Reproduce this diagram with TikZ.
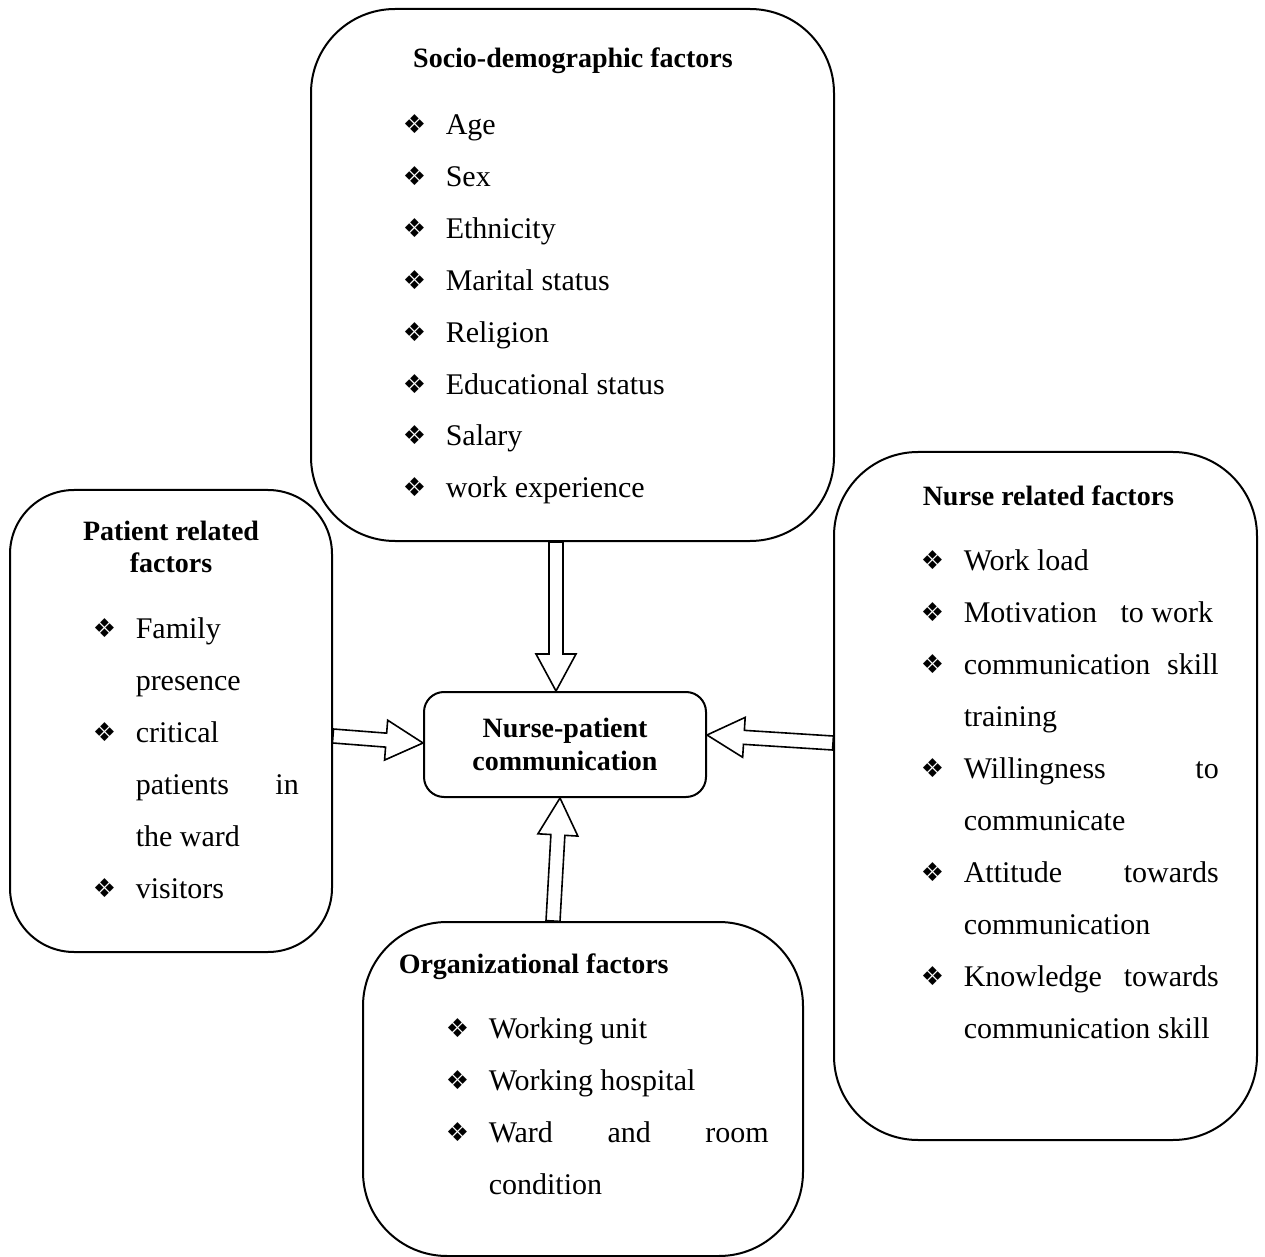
\documentclass[tikz,border=0pt]{standalone}
\usepackage{fontspec}
\setmainfont{Liberation Serif}
\newfontfamily\symfont{DejaVu Sans}
\usetikzlibrary{calc,fit}

\newdimen\px \px=0.5pt
\newcommand\bul{\makebox[43\px][l]{\raisebox{0.5pt}{\fontsize{13}{13}\symfont ❖}}}
\newcommand\jline[2]{\makebox[#1\px][s]{#2}}
%fat outlined arrow from #1 to #2
\newcommand\bigarrow[2]{%
	\coordinate (ba-h) at ($(#2)!18.5pt!(#1)$);
	\draw [fatarrow] ($(#1)!3.5pt!90:(#2)$) -- ($(ba-h)!3.5pt!-90:(#1)$) -- ($(ba-h)!10pt!-90:(#1)$) -- (#2) -- ($(ba-h)!10pt!90:(#1)$) -- ($(ba-h)!3.5pt!90:(#1)$) -- ($(#1)!3.5pt!-90:(#2)$) -- cycle ;
}

\tikzset{every picture/.style={line width=0.75pt},
	factorbox/.style={draw, line width=1pt, inner sep=0pt},
	itemtext/.style={anchor=base west, inner sep=0pt, font=\fontsize{15}{17}\selectfont},
	titletext/.style={inner sep=0pt, font=\fontsize{14}{16.5}\selectfont\bfseries},
	fatarrow/.style={draw, line width=0.8pt, fill=white, line join=miter}}

\begin{document}
\begin{tikzpicture}[x=0.5pt,y=0.5pt,yscale=-1,xscale=1]
	\useasboundingbox (0,0) rectangle (1265,1257);
	
	%Rounded Rect: socio-demographic factors
	\node [factorbox, rounded corners=42pt, fit={(311,9) (834,541)}] (socio) {};
	\node [titletext, anchor=base] (socio-t) at (573,68) {Socio-demographic factors};
	\foreach \txt [count=\i from 0] in {Age, Sex, Ethnicity, Marital status, Religion, Educational status, Salary, work experience}
		\node [itemtext] (socio-\i) at (402,135+51.8*\i) {\bul\txt};
	
	%Rounded Rect: patient related factors
	\node [factorbox, rounded corners=32pt, fit={(10,490) (332,952)}] (patient) {};
	\node [titletext, anchor=base, align=center] (patient-t) at (171,573) {Patient related\\factors};
	\node [itemtext] (patient-1) at (92,638) {\bul Family};
	\node [itemtext] (patient-2) at (135,690) {presence};
	\node [itemtext] (patient-3) at (92,742) {\bul critical};
	\node [itemtext] (patient-4) at (135,794) {\jline{163}{patients in}};
	\node [itemtext] (patient-5) at (135,846) {the ward};
	\node [itemtext] (patient-6) at (92,898) {\bul visitors};
	
	%Rounded Rect: nurse related factors
	\node [factorbox, rounded corners=42pt, fit={(834,452) (1257,1140)}] (nurse) {};
	\node [titletext, anchor=base west] (nurse-t) at (922,505) {Nurse related factors};
	\node [itemtext] (nurse-1) at (920,570) {\bul Work load};
	\node [itemtext] (nurse-2) at (920,622) {\bul Motivation\hspace{8pt} to work};
	\node [itemtext] (nurse-3) at (920,674) {\bul\jline{255}{communication skill}};
	\node [itemtext] (nurse-4) at (963,726) {training};
	\node [itemtext] (nurse-5) at (920,778) {\bul\jline{255}{Willingness to}};
	\node [itemtext] (nurse-6) at (963,830) {communicate};
	\node [itemtext] (nurse-7) at (920,882) {\bul\jline{255}{Attitude towards}};
	\node [itemtext] (nurse-8) at (963,934) {communication};
	\node [itemtext] (nurse-9) at (920,986) {\bul\jline{255}{Knowledge towards}};
	\node [itemtext] (nurse-10) at (963,1038) {communication skill};
	
	%Rounded Rect: organizational factors
	\node [factorbox, rounded corners=42pt, fit={(363,922) (803,1256)}] (org) {};
	\node [titletext, anchor=base west] (org-t) at (398,973) {Organizational factors};
	\node [itemtext] (org-1) at (445,1038) {\bul Working unit};
	\node [itemtext] (org-2) at (445,1090) {\bul Working hospital};
	\node [itemtext] (org-3) at (445,1142) {\bul\jline{280}{Ward and room}};
	\node [itemtext] (org-4) at (488,1194) {condition};
	
	%Rounded Rect: nurse-patient communication
	\node [factorbox, rounded corners=10pt, minimum width=141pt, minimum height=52.5pt, titletext, align=center] (comm) at (565,744.5) {Nurse-patient\\communication};
	
	%Block Arrows
	\coordinate (down-s) at ($(socio.south)+(-16.5,0)$);
	\coordinate (down-e) at ($(comm.north)+(-9,0)$);
	\bigarrow{down-s}{down-e}
	\coordinate (left-s) at ($(patient.east)+(0,15)$);
	\coordinate (left-e) at ($(comm.west)+(0,-1.5)$);
	\bigarrow{left-s}{left-e}
	\coordinate (right-s) at ($(nurse.west)+(0,-53)$);
	\coordinate (right-e) at ($(comm.east)+(0,-9.5)$);
	\bigarrow{right-s}{right-e}
	\coordinate (up-s) at ($(org.north)+(-30,0)$);
	\coordinate (up-e) at ($(comm.south)+(-5,0)$);
	\bigarrow{up-s}{up-e}
	
\end{tikzpicture}
\end{document}
